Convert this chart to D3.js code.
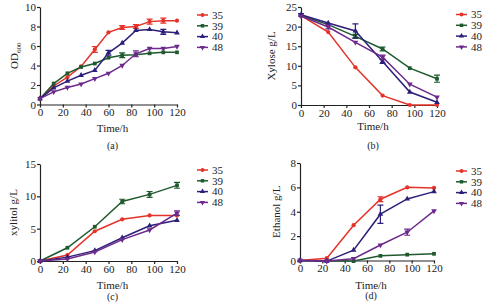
<!DOCTYPE html>
<html>
<head>
<meta charset="utf-8">
<script src="https://cdn.jsdelivr.net/npm/d3@7"></script>
<style>
  body { margin: 0; background: #fff; }
  svg text { font-family: "Liberation Serif", "DejaVu Serif", serif; fill: #222; }
</style>
</head>
<body>
<svg id="chart" width="500" height="303"></svg>
<script>
// strains (legend) and colours
const strains = ["35", "39", "40", "48"];
const colors = ["#e5332a", "#1f5a2e", "#2c1f7a", "#6c2a8c"];
const symbols = [d3.symbolCircle, d3.symbolSquare, d3.symbolTriangle, d3.symbolTriangle];

// (a) OD600
const timeA = [0, 12, 24, 36, 48, 60, 72, 84, 96, 108, 120];
const od35 = [0.6, 1.9, 2.8, 3.9, 5.65, 7.4, 7.9, 8.0, 8.5, 8.6, 8.6];
const od39 = [0.6, 2.15, 3.2, 3.85, 4.2, 4.8, 5.05, 5.1, 5.25, 5.35, 5.35];
const od40 = [0.6, 1.7, 2.4, 3.0, 3.5, 5.3, 6.3, 7.6, 7.7, 7.45, 7.35];
const od48 = [0.6, 1.3, 1.75, 2.1, 2.65, 3.2, 4.0, 5.2, 5.75, 5.75, 5.95];
const odErr35 = [0, 0, 0, 0, 0.3, 0, 0.2, 0.2, 0.25, 0.25, 0];
const odErr39 = [0, 0, 0, 0, 0, 0, 0.25, 0, 0, 0, 0];
const odErr40 = [0, 0, 0, 0, 0, 0.25, 0, 0, 0, 0.25, 0];
const odErr48 = [0, 0, 0, 0, 0, 0, 0, 0.3, 0, 0, 0];

// (b)-(d) sampled every 24 h
const timeB = [0, 24, 48, 72, 96, 120];
const xyl35 = [22.8, 18.6, 9.6, 2.4, 0, 0];
const xyl39 = [22.8, 20.5, 17.5, 14.3, 9.4, 6.7];
const xyl40 = [23.0, 20.9, 18.9, 11.1, 3.3, 0.7];
const xyl48 = [22.7, 19.9, 16.0, 12.2, 5.3, 2.0];
const xylErr35 = [0, 0, 0, 0, 0, 0];
const xylErr39 = [0, 0, 0.5, 0.5, 0, 0.9];
const xylErr40 = [0.3, 0, 1.8, 0.5, 0, 0];
const xylErr48 = [0, 0.5, 0, 0.5, 0, 0];

const xol35 = [0, 0.93, 4.6, 6.45, 7.05, 7.05];
const xol39 = [0, 2.05, 5.3, 9.2, 10.3, 11.7];
const xol40 = [0, 0.6, 1.6, 3.6, 5.45, 6.3];
const xol48 = [0, 0.3, 1.4, 3.3, 4.8, 7.4];
const xolErr35 = [0, 0, 0, 0, 0, 0];
const xolErr39 = [0, 0, 0, 0.35, 0.45, 0.45];
const xolErr40 = [0, 0, 0, 0, 0, 0];
const xolErr48 = [0, 0, 0, 0, 0, 0.35];

const eth35 = [0, 0.19, 2.9, 5.03, 6.0, 5.95];
const eth39 = [0, -0.05, -0.05, 0.38, 0.48, 0.55];
const eth40 = [0, -0.05, 0.85, 3.8, 5.05, 5.65];
const eth48 = [0, -0.05, 0.15, 1.27, 2.32, 4.07];
const ethErr35 = [0, 0, 0, 0.2, 0, 0];
const ethErr39 = [0, 0, 0, 0, 0, 0];
const ethErr40 = [0, 0, 0, 0.75, 0, 0];
const ethErr48 = [0, 0, 0, 0, 0.25, 0];

const xTicks = [0, 20, 40, 60, 80, 100, 120];

const svg = d3.select("#chart");

function drawPanel(p) {
    const g = svg.append("g");
    const x = d3.scaleLinear().domain([0, 120]).range([p.x0, p.x1]);
    const y = d3.scaleLinear().domain([0, p.ymax]).range([p.y0, p.y1]);

    g.append("g")
        .attr("transform", "translate(0," + p.y0 + ")")
        .call(d3.axisBottom(x).tickValues(xTicks).tickSize(3).tickPadding(1).tickSizeOuter(0))
        .call(a => a.selectAll("text").style("font-size", "11px"));
    g.append("g")
        .attr("transform", "translate(" + p.x0 + ",0)")
        .call(d3.axisLeft(y).tickValues(p.yTicks).tickSize(3).tickPadding(1).tickSizeOuter(0))
        .call(a => a.selectAll("text").style("font-size", "11px"));
    g.selectAll(".domain, .tick line").attr("stroke", "#222").attr("stroke-width", 1.2);

    p.series.forEach(function (s, i) {
        const pts = p.time.map((t, j) => ({ t: t, v: s[j], e: p.errs[i][j] }));
        const line = d3.line().x(d => x(d.t)).y(d => y(d.v));
        g.append("path")
            .datum(pts)
            .attr("d", line)
            .attr("fill", "none")
            .attr("stroke", colors[i])
            .attr("stroke-width", 1.5);
        // error bars
        pts.filter(d => d.e > 0).forEach(function (d) {
            const cx = x(d.t);
            g.append("path")
                .attr("d", "M" + cx + "," + y(d.v - d.e) + "V" + y(d.v + d.e) +
                    "M" + (cx - 3) + "," + y(d.v - d.e) + "H" + (cx + 3) +
                    "M" + (cx - 3) + "," + y(d.v + d.e) + "H" + (cx + 3))
                .attr("stroke", colors[i])
                .attr("stroke-width", 1.2)
                .attr("fill", "none");
        });
        g.selectAll(null)
            .data(pts)
            .enter()
            .append("path")
            .attr("d", d3.symbol().type(symbols[i]).size(14))
            .attr("transform", d => "translate(" + x(d.t) + "," + y(d.v) + ")" + (i == 3 ? " rotate(180)" : ""))
            .attr("fill", colors[i]);
    });

    // legend
    strains.forEach(function (name, i) {
        const ly = p.legY + i * 10.8;
        g.append("line")
            .attr("x1", p.legX).attr("x2", p.legX + 11)
            .attr("y1", ly).attr("y2", ly)
            .attr("stroke", colors[i]).attr("stroke-width", 1.5);
        g.append("path")
            .attr("d", d3.symbol().type(symbols[i]).size(12))
            .attr("transform", "translate(" + (p.legX + 5.5) + "," + ly + ")" + (i == 3 ? " rotate(180)" : ""))
            .attr("fill", colors[i]);
        g.append("text")
            .attr("x", p.legX + 15).attr("y", ly)
            .attr("dy", "0.35em")
            .style("font-size", "11px")
            .text(name);
    });

    // axis titles
    g.append("text")
        .attr("x", (p.x0 + p.x1) / 2 + 4).attr("y", p.titleY)
        .attr("text-anchor", "middle")
        .style("font-size", "11px")
        .text("Time/h");
    g.append("text")
        .attr("x", (p.x0 + p.x1) / 2 + 4).attr("y", p.tagY)
        .attr("text-anchor", "middle")
        .style("font-size", "10px")
        .text(p.tag);
    const yl = g.append("text")
        .attr("transform", "translate(" + p.ylabX + "," + ((p.y0 + p.y1) / 2) + ") rotate(-90)")
        .attr("text-anchor", "middle")
        .style("font-size", "11px");
    yl.append("tspan").text(p.ylab);
    if (p.ylabSub) {
        yl.append("tspan").attr("dy", "3").style("font-size", "7px").text(p.ylabSub);
    }
}

drawPanel({
    x0: 40, x1: 177, y0: 104.5, y1: 7, ymax: 10, yTicks: [0, 2, 4, 6, 8, 10],
    time: timeA, series: [od35, od39, od40, od48], errs: [odErr35, odErr39, odErr40, odErr48],
    legX: 197, legY: 15, titleY: 132, tagY: 149, tag: "(a)", ylab: "OD", ylabSub: "600", ylabX: 18
});
drawPanel({
    x0: 301, x1: 437, y0: 105, y1: 7, ymax: 25, yTicks: [0, 5, 10, 15, 20, 25],
    time: timeB, series: [xyl35, xyl39, xyl40, xyl48], errs: [xylErr35, xylErr39, xylErr40, xylErr48],
    legX: 456, legY: 14.5, titleY: 130, tagY: 149, tag: "(b)", ylab: "Xylose g/L", ylabX: 275
});
drawPanel({
    x0: 40, x1: 177, y0: 261, y1: 164, ymax: 15, yTicks: [0, 5, 10, 15],
    time: timeB, series: [xol35, xol39, xol40, xol48], errs: [xolErr35, xolErr39, xolErr40, xolErr48],
    legX: 197, legY: 170, titleY: 289, tagY: 300, tag: "(c)", ylab: "xylitol g/L", ylabX: 17
});
drawPanel({
    x0: 300, x1: 434, y0: 260.5, y1: 163, ymax: 8, yTicks: [0, 2, 4, 6, 8],
    time: timeB, series: [eth35, eth39, eth40, eth48], errs: [ethErr35, ethErr39, ethErr40, ethErr48],
    legX: 456, legY: 171, titleY: 289, tagY: 299, tag: "(d)", ylab: "Ethanol g/L", ylabX: 280
});
</script>
</body>
</html>
